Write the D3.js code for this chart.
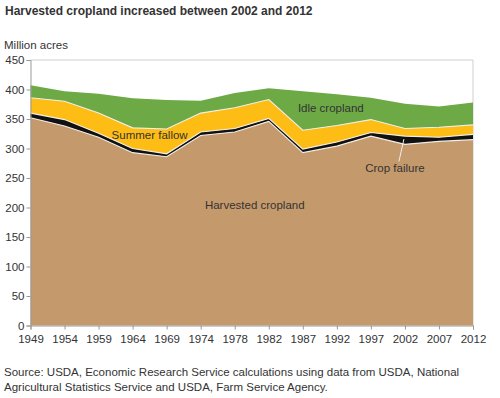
<!DOCTYPE html>
<html>
<head>
<meta charset="utf-8">
<script src="https://cdn.jsdelivr.net/npm/d3@7"></script>
<style>
  body { margin: 0; background: #fff; }
  text { font-family: "Liberation Sans", Arial, Helvetica, sans-serif; fill: #333; }
</style>
</head>
<body>
<div id="chart"></div>
<script>
// Harvested cropland, stacked areas (million acres)

let years = ['1949','1954','1959','1964','1969','1974','1978','1982','1987','1992','1997','2002','2007','2012'];

let harvested = [352, 338, 319, 293, 286, 322, 328, 346, 293, 304, 321, 307, 312, 315];
let crop_failure = [8, 11, 7, 7, 5, 6, 6, 5, 6, 7, 6, 14, 7, 9];
let summer_fallow = [26, 31, 34, 35, 42, 32, 35, 32, 32, 28, 22, 13, 17, 16];
let idle = [21, 17, 33, 50, 49, 21, 25, 19, 66, 53, 37, 42, 35, 38];

let y_ticks = [0, 50, 100, 150, 200, 250, 300, 350, 400, 450];

let layer_keys = ['harvested', 'failure', 'fallow', 'idle'];
let layer_colors = {harvested: '#C4996C', failure: '#111111', fallow: '#FDBD14', idle: '#6DAA46'};

// table for d3.stack
let table = years.map((yr, i) => ({
    year: yr,
    harvested: harvested[i],
    failure: crop_failure[i],
    fallow: summer_fallow[i],
    idle: idle[i]
}));

let width = 500;
let height = 398;

let svg = d3.select('#chart')
    .append('svg')
    .attr('width', width)
    .attr('height', height);

let x_scale = d3.scalePoint()
    .domain(years)
    .range([30.5, 473]);

let y_scale = d3.scaleLinear()
    .domain([0, 450])
    .range([325.5, 60]);

let stacked = d3.stack().keys(layer_keys)(table);

let area = d3.area()
    .x(d => x_scale(d.data.year))
    .y0(d => y_scale(d[0]))
    .y1(d => y_scale(d[1]));

let top_line = d3.line()
    .x(d => x_scale(d.data.year))
    .y(d => y_scale(d[1]));

// frame (top + right)
svg.append('path')
    .attr('d', `M${x_scale.range()[0]},${y_scale(450)}H${x_scale.range()[1]}V${y_scale(0)}`)
    .attr('fill', 'none')
    .attr('stroke', '#cfcfcf');

// areas
svg.append('g').selectAll('path')
    .data(stacked)
    .enter()
    .append('path')
    .attr('d', area)
    .attr('fill', d => layer_colors[d.key]);

// light separators between layers
svg.append('g').selectAll('path')
    .data(stacked.slice(0, 3))
    .enter()
    .append('path')
    .attr('d', top_line)
    .attr('fill', 'none')
    .attr('stroke', '#f2ede6')
    .attr('stroke-width', 1.1);

// axes
let x_axis = d3.axisBottom(x_scale).tickSize(4).tickPadding(4);
let gx = svg.append('g')
    .attr('transform', 'translate(0,' + y_scale(0) + ')')
    .call(x_axis);

let y_axis = d3.axisLeft(y_scale).tickValues(y_ticks).tickSize(4).tickPadding(2);
let gy = svg.append('g')
    .attr('transform', 'translate(' + x_scale.range()[0] + ',0)')
    .call(y_axis);

[gx, gy].forEach(g => {
    g.select('.domain').attr('stroke', '#999');
    g.selectAll('.tick line').attr('stroke', '#999');
    g.selectAll('.tick text')
        .style('font-size', '11.5px')
        .attr('fill', '#333');
});
gx.selectAll('.tick text').attr('dy', '0.85em');
gy.selectAll('.tick text').attr('dy', '0.34em');

// titles
svg.append('text')
    .attr('x', 5).attr('y', 15)
    .style('font-size', '12px')
    .style('font-weight', 'bold')
    .text('Harvested cropland increased between 2002 and 2012');

svg.append('text')
    .attr('x', 4).attr('y', 49)
    .style('font-size', '11.5px')
    .text('Million acres');

// series labels
let labels = [
    {text: 'Summer fallow', year: '1969', value: 316, dx: -17},
    {text: 'Idle cropland', year: '1987', value: 362, dx: 28},
    {text: 'Crop failure', year: '2002', value: 260, dx: -10},
    {text: 'Harvested cropland', year: '1982', value: 198, dx: -14}
];
svg.append('g').selectAll('text')
    .data(labels)
    .enter()
    .append('text')
    .attr('x', d => x_scale(d.year) + d.dx)
    .attr('y', d => y_scale(d.value))
    .attr('text-anchor', 'middle')
    .style('font-size', '11.5px')
    .text(d => d.text);

// leader line for crop failure
svg.append('line')
    .attr('x1', x_scale('2002') - 1).attr('y1', y_scale(316))
    .attr('x2', x_scale('2002') - 6).attr('y2', y_scale(278))
    .attr('stroke', '#eee')
    .attr('stroke-width', 1);

// source
svg.append('text')
    .attr('x', 4).attr('y', 376)
    .style('font-size', '11.5px')
    .text('Source: USDA, Economic Research Service calculations using data from USDA, National');
svg.append('text')
    .attr('x', 4).attr('y', 391)
    .style('font-size', '11.5px')
    .text('Agricultural Statistics Service and USDA, Farm Service Agency.');
</script>
</body>
</html>
